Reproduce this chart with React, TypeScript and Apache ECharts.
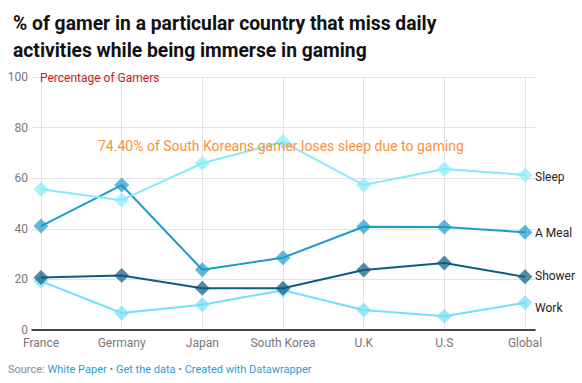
import React, { useEffect, useRef } from "react";
import * as echarts from "echarts";

const categories = ["France", "Germany", "Japan", "South Korea", "U.K", "U.S", "Global"];
const sleep = [55.6, 51.3, 65.9, 74.4, 57.3, 63.6, 61.3];
const meal = [41.1, 57.3, 23.8, 28.6, 40.8, 40.7, 38.6];
const shower = [20.8, 21.5, 16.5, 16.5, 23.7, 26.5, 21.0];
const work = [19.3, 6.7, 10.0, 15.7, 7.9, 5.4, 10.8];
const seriesNames = ["Sleep", "A Meal", "Shower", "Work"];
const yTicks = [0, 20, 40, 60, 80, 100];

const colors = ["#86e9fc", "#1d9bc9", "#0b5d83", "#74defc"];
const labelOffsets = [2, 1, -1, 5];

export default function App() {
  const ref = useRef<HTMLDivElement>(null);
  useEffect(() => {
    const chart = echarts.init(ref.current!, null, { renderer: "svg" });
    const font = "Roboto, sans-serif";
    const datasets = [sleep, meal, shower, work];
    chart.setOption({
      animation: false,
      textStyle: { fontFamily: font },
      title: {
        text: "% of gamer in a particular country that miss daily\nactivities while being immerse in gaming",
        left: 8,
        top: 5,
        textStyle: { fontFamily: font, fontSize: 19.3, fontWeight: "bold", color: "#111", lineHeight: 27 },
      },
      grid: [
        { left: 32, right: 47, top: 77, bottom: 53 },
        { left: 41, right: 57, top: 77, bottom: 53 },
      ],
      xAxis: [
        {
          gridIndex: 0,
          type: "value",
          min: 0,
          max: 1,
          axisLine: { show: true, lineStyle: { color: "#111", width: 1.5 } },
          axisTick: { show: false },
          axisLabel: { show: false },
          splitLine: { show: false },
        },
        {
          gridIndex: 1,
          type: "category",
          data: categories,
          boundaryGap: false,
          axisLine: { show: false },
          axisTick: { show: false },
          axisLabel: { color: "#777", fontSize: 12, fontFamily: font, margin: 7, interval: 0 },
          splitLine: { show: true, interval: 0, lineStyle: { color: "#e3e3e3", width: 1 } },
        },
      ],
      yAxis: [
        {
          gridIndex: 0,
          type: "value",
          min: 0,
          max: 100,
          interval: 20,
          axisLine: { show: false },
          axisTick: { show: false },
          axisLabel: { color: "#777", fontSize: 12, fontFamily: font, margin: 4, formatter: (v: number) => (yTicks.includes(v) ? String(v) : "") },
          splitLine: { lineStyle: { color: "#e3e3e3", width: 1 } },
        },
        {
          gridIndex: 1,
          type: "value",
          min: 0,
          max: 100,
          interval: 20,
          show: false,
          splitLine: { show: false },
        },
      ],
      graphic: [
        {
          type: "text",
          left: 40,
          top: 72,
          z: 100,
          style: { text: "Percentage of Gamers", fill: "#c41e24", font: `12px ${font}` },
        },
        {
          type: "text",
          left: 98,
          top: 139,
          z: 100,
          style: { text: "74.40% of South Koreans gamer loses sleep due to gaming", fill: "#f7933c", font: `14px ${font}` },
        },
        {
          type: "text",
          left: 8,
          top: 364,
          z: 100,
          style: {
            text: "{g|Source: }{b|White Paper}{g| • }{b|Get the data}{g| • }{b|Created with Datawrapper}",
            rich: {
              g: { fill: "#888", fontSize: 11, fontFamily: font },
              b: { fill: "#2e9bd0", fontSize: 11, fontFamily: font },
            },
          },
        },
      ],
      series: datasets.map((d, i) => ({
        name: seriesNames[i],
        type: "line",
        xAxisIndex: 1,
        yAxisIndex: 1,
        data: d,
        z: 10 - i,
        symbol: "diamond",
        symbolSize: 15,
        lineStyle: { color: colors[i], width: 2 },
        itemStyle: { color: colors[i], opacity: 0.7 },
        endLabel: {
          show: true,
          formatter: seriesNames[i],
          color: "#222",
          fontSize: 12,
          fontFamily: font,
          distance: 10,
          offset: [0, labelOffsets[i]],
        },
      })),
    });
    return () => chart.dispose();
  }, []);
  return <div ref={ref} style={{ width: 582, height: 383, position: "absolute", left: 0, top: 0 }} />;
}
